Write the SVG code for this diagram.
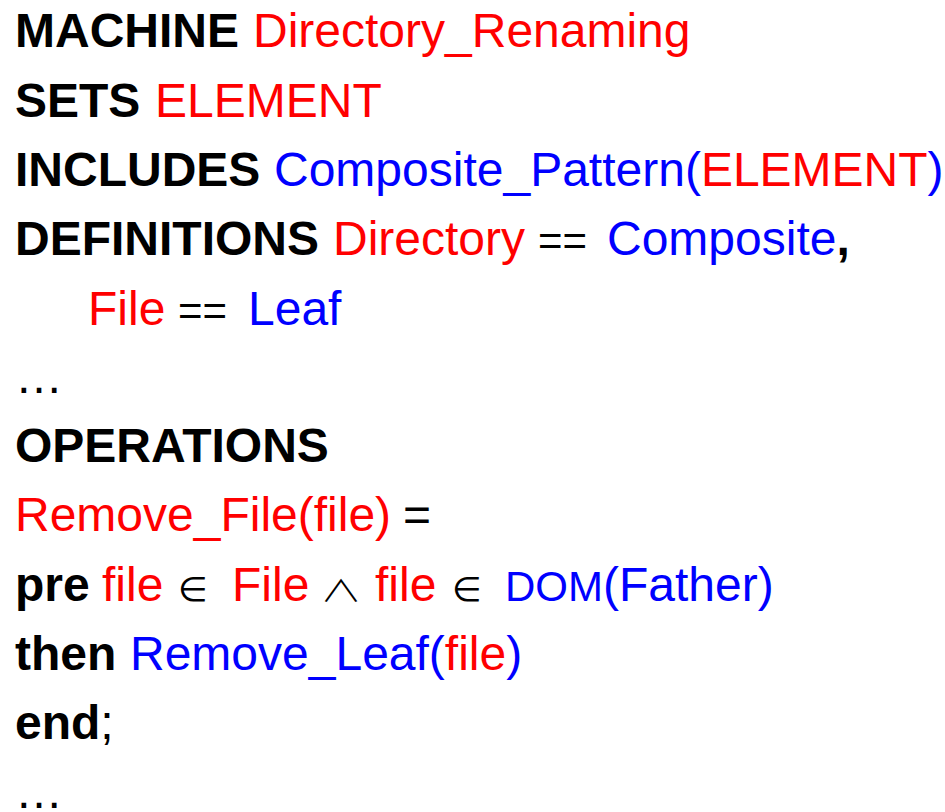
<svg xmlns="http://www.w3.org/2000/svg" width="945" height="812" viewBox="0 0 945 812">
  <style>
    text { font-family: "Liberation Sans", Arial, sans-serif; font-size: 48px; fill: #000; }
    .kw { font-weight: bold; }
    .r { fill: #ff0000; }
    .b { fill: #0000ff; }
    .sym { font-family: "DejaVu Sans", sans-serif; font-size: 34px; }
    .sm { font-size: 42px; }
    .and { font-family: "Noto Sans CJK JP", "DejaVu Sans", sans-serif; font-size: 30px; font-weight: 300; }
  </style>
  <rect width="945" height="812" fill="#ffffff"/>
  <g id="machine">
    <text x="15" y="47"><tspan class="kw">MACHINE</tspan> <tspan class="r" x="253">Directory_Renaming</tspan></text>
  </g>
  <g id="sets">
    <text x="15" y="117"><tspan class="kw">SETS</tspan> <tspan class="r" x="155">ELEMENT</tspan></text>
  </g>
  <g id="includes">
    <text x="15" y="186"><tspan class="kw">INCLUDES</tspan> <tspan class="b" x="274">Composite_Pattern(</tspan><tspan class="r">ELEMENT</tspan><tspan class="b">)</tspan></text>
  </g>
  <g id="definitions">
    <text x="15" y="255"><tspan class="kw">DEFINITIONS</tspan> <tspan class="r" x="333">Directory</tspan> <tspan x="538" class="sm">==</tspan> <tspan class="b" x="607">Composite</tspan><tspan class="kw">,</tspan></text>
    <text x="88" y="325"><tspan class="r">File</tspan> <tspan x="178" class="sm">==</tspan> <tspan class="b" x="248">Leaf</tspan></text>
  </g>
  <g id="ellipsis-1">
    <text x="15" y="393">…</text>
  </g>
  <g id="operations">
    <text x="15" y="462" class="kw">OPERATIONS</text>
    <text x="15" y="531"><tspan class="r">Remove_File(file)</tspan> <tspan x="403">=</tspan></text>
    <text x="15" y="601"><tspan class="kw">pre</tspan> <tspan class="r" x="102">file</tspan><tspan class="sym" x="178">∈</tspan><tspan class="r" x="232">File</tspan><tspan class="r" x="375">file</tspan><tspan class="sym" x="452">∈</tspan><tspan class="b sm" x="505">DOM</tspan><tspan class="b">(Father)</tspan></text>
    <!-- logical "and", widened to the width of the surrounding operators -->
    <text class="and" transform="translate(320 601) scale(1.4 1)">∧</text>
    <text x="15" y="670"><tspan class="kw">then</tspan> <tspan class="b" x="130">Remove_Leaf(</tspan><tspan class="r">file</tspan><tspan class="b">)</tspan></text>
    <text x="15" y="739"><tspan class="kw">end</tspan><tspan>;</tspan></text>
  </g>
  <g id="ellipsis-2">
    <text x="15" y="808">…</text>
  </g>
</svg>
